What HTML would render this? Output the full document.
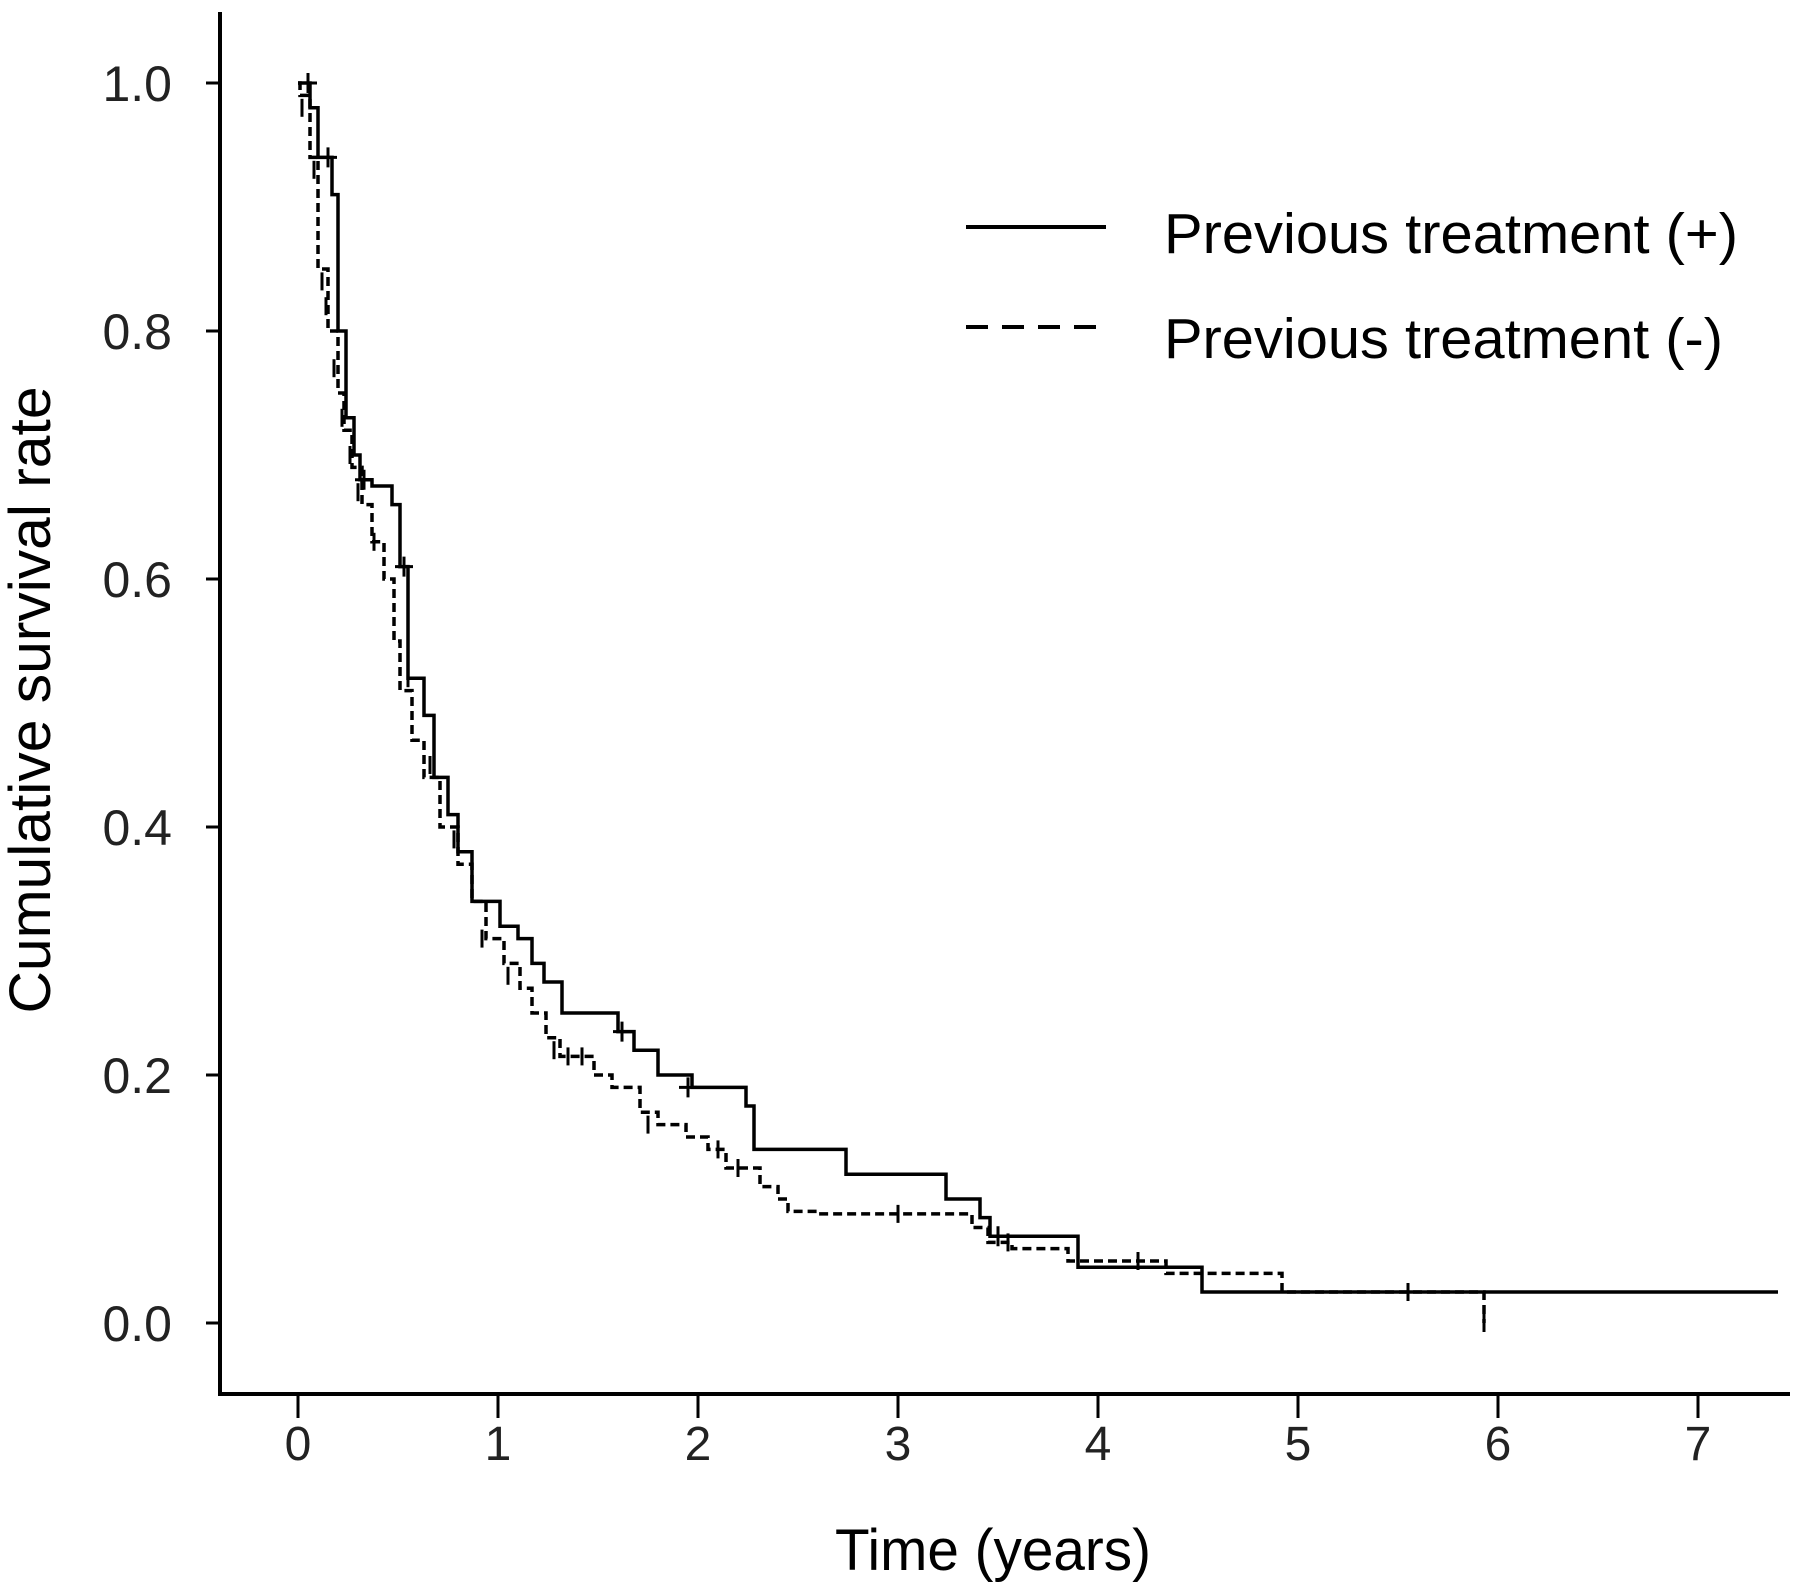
<!DOCTYPE html>
<html><head><meta charset="utf-8"><style>
html,body{margin:0;padding:0;background:#fff;}
svg{display:block;font-family:"Liberation Sans",Arial,sans-serif;}
</style></head><body>
<svg id="chart" width="1795" height="1593" viewBox="0 0 1795 1593" xmlns="http://www.w3.org/2000/svg">
<g id="axes"></g>
<g id="series"></g>
<text x="993" y="1570" font-size="58" text-anchor="middle" textLength="316" lengthAdjust="spacingAndGlyphs">Time (years)</text>
<text transform="translate(50,700) rotate(-90)" font-size="58" text-anchor="middle" textLength="627" lengthAdjust="spacingAndGlyphs">Cumulative survival rate</text>
<g>
<line x1="966" y1="227" x2="1106" y2="227" stroke="#000" stroke-width="4"/>
<text x="1164" y="253" font-size="57" textLength="574" lengthAdjust="spacingAndGlyphs">Previous treatment (+)</text>
<line x1="966" y1="327" x2="1106" y2="327" stroke="#000" stroke-width="4" stroke-dasharray="22,14"/>
<text x="1164" y="358" font-size="57" textLength="559" lengthAdjust="spacingAndGlyphs">Previous treatment (-)</text>
</g>
</svg>
<script>
const xTicks = [0,1,2,3,4,5,6,7];
const yTicks = [0.0,0.2,0.4,0.6,0.8,1.0];
const yTickLabels = ["0.0","0.2","0.4","0.6","0.8","1.0"];
// Previous treatment (+) : step times and survival after each time
const plusTimes = [0,0.06,0.10,0.17,0.20,0.24,0.28,0.31,0.37,0.47,0.51,0.55,0.63,0.68,0.75,0.80,0.87,1.01,1.10,1.17,1.23,1.32,1.60,1.68,1.80,1.97,2.24,2.28,2.74,3.24,3.41,3.46,3.90,4.52,7.40];
const plusSurv  = [1.00,0.98,0.94,0.91,0.80,0.73,0.70,0.68,0.675,0.66,0.61,0.52,0.49,0.44,0.41,0.38,0.34,0.32,0.31,0.29,0.275,0.25,0.235,0.22,0.20,0.19,0.175,0.14,0.12,0.10,0.085,0.07,0.045,0.025,0.025];
// Previous treatment (-)
const minusTimes = [0,0.01,0.06,0.10,0.15,0.20,0.23,0.27,0.32,0.37,0.43,0.48,0.51,0.57,0.63,0.71,0.80,0.87,0.94,1.03,1.11,1.17,1.24,1.31,1.48,1.57,1.71,1.80,1.94,2.05,2.14,2.31,2.40,2.45,2.60,3.37,3.45,3.57,3.85,4.34,4.92,5.93];
const minusSurv  = [1.00,0.99,0.94,0.85,0.80,0.75,0.72,0.69,0.66,0.63,0.60,0.55,0.51,0.47,0.44,0.40,0.37,0.34,0.31,0.29,0.27,0.25,0.23,0.215,0.20,0.19,0.17,0.16,0.15,0.14,0.125,0.11,0.10,0.09,0.088,0.077,0.065,0.06,0.05,0.04,0.025,0.0];
const plusCensT = [0.05,0.15,0.33,0.53,1.62,1.95,3.5];
const plusCensS = [1.00,0.94,0.68,0.61,0.235,0.19,0.07];
const minusCensT = [0.02,0.08,0.12,0.14,0.18,0.22,0.26,0.3,0.38,0.55,0.66,0.78,0.92,1.05,1.28,1.35,1.42,1.75,2.1,2.2,3.0,3.55,4.2,5.55,5.93];
const minusCensS = [0.98,0.93,0.84,0.82,0.77,0.73,0.70,0.67,0.63,0.52,0.45,0.39,0.31,0.28,0.22,0.215,0.215,0.16,0.14,0.125,0.088,0.065,0.05,0.025,0.0];

const X0=298, XS=200, Y0=1323, YS=1240;
const x = t => X0 + t*XS;
const y = s => Y0 - s*YS;
const NS="http://www.w3.org/2000/svg";
const axes=document.getElementById('axes'), series=document.getElementById('series');
function mk(tag, attrs, parent){const e=document.createElementNS(NS,tag);for(const k in attrs)e.setAttribute(k,attrs[k]);parent.appendChild(e);return e;}

const ya=mk('line',{x1:220,y1:12,x2:220,y2:1396,stroke:'#000','stroke-width':4},axes);


const xa=mk('line',{x1:218,y1:1394,x2:1790,y2:1394,stroke:'#000','stroke-width':4},axes);


xTicks.forEach(v=>{
  const t=mk('line',{x1:x(v),y1:1394,x2:x(v),y2:1418,stroke:'#000','stroke-width':3},axes);
  
  
  const l=mk('text',{x:x(v),y:1460,'font-size':48,'text-anchor':'middle',fill:'#222'},axes);
  l.textContent=String(v);
  
  
});
yTicks.forEach((v,i)=>{
  const t=mk('line',{x1:206,y1:y(v),x2:220,y2:y(v),stroke:'#000','stroke-width':3},axes);
  
  
  const l=mk('text',{x:172,y:y(v)+18,'font-size':50,'text-anchor':'end',fill:'#222'},axes);
  l.textContent=yTickLabels[i];
  
  
});
function stepPath(ts,ss){
  let d=`M${x(ts[0])},${y(ss[0])}`;
  for(let i=1;i<ts.length;i++){d+=` H${x(ts[i])} V${y(ss[i])}`;}
  return d;
}
const p1=mk('path',{d:stepPath(plusTimes,plusSurv),fill:'none',stroke:'#000','stroke-width':3.5},series);


const p2=mk('path',{d:stepPath(minusTimes,minusSurv),fill:'none',stroke:'#000','stroke-width':3.5,'stroke-dasharray':'9,5'},series);


plusCensT.forEach((t,i)=>{
  const c=mk('path',{d:`M${x(t)},${y(plusCensS[i])-10}v20M${x(t)-9},${y(plusCensS[i])}h18`,stroke:'#000','stroke-width':3},series);
  
  
});
minusCensT.forEach((t,i)=>{
  const c=mk('path',{d:`M${x(t)},${y(minusCensS[i])-9}v18`,stroke:'#000','stroke-width':3},series);
  
  
});
</script>
</body></html>
